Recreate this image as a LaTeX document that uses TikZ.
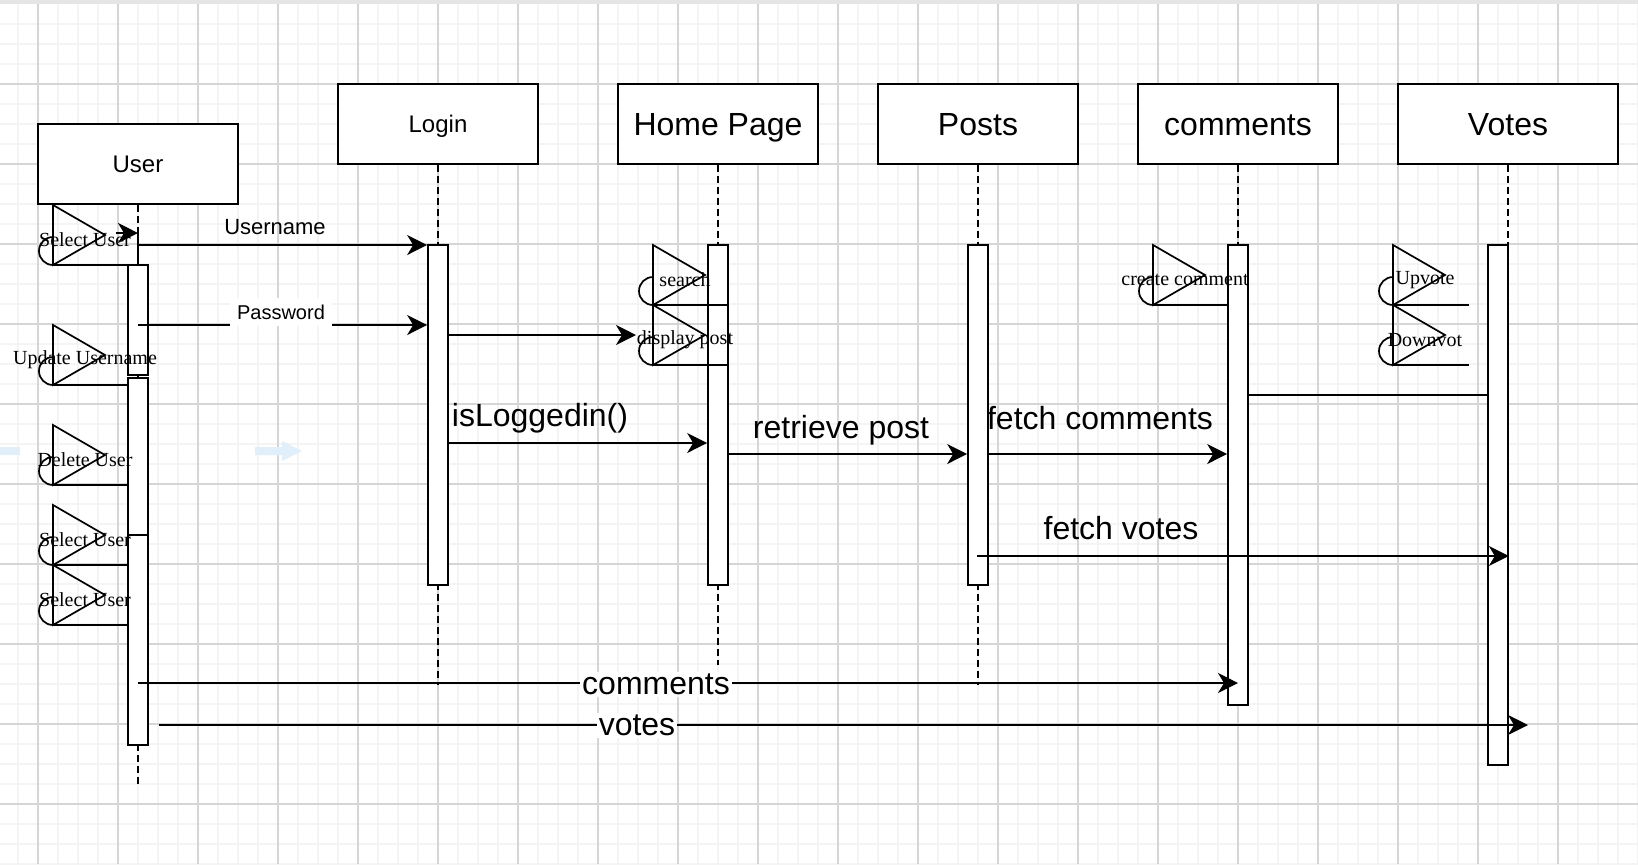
\documentclass[tikz,border=0pt]{standalone}
\usepackage{fontspec}
\setmainfont{Liberation Sans}
\newfontfamily\callfont{Liberation Serif}
\usetikzlibrary{arrows.meta}

\definecolor{gridminor}{HTML}{F4F4F4}
\definecolor{gridmajor}{HTML}{D6D6D6}
\definecolor{hintblue}{HTML}{E1EFFA}

% self call: lower corner (#1,#2), line to x=#3, node name #4, text #5
\newcommand{\selfcall}[5]{%
  \draw (#1,#2-60) -- (#1+52,#2-30) -- (#1,#2) -- cycle;
  \draw (#1,#2-28) arc[start angle=270,end angle=90,radius=14];
  \draw (#1,#2) -- (#3,#2);
  \node[calltext] (#4) at (#1+32,#2-25) {#5};
}

\begin{document}
\begin{tikzpicture}[x=0.5pt,y=-0.5pt,line width=0.85pt,
    lifebox/.style={draw,fill=white,minimum width=100pt,minimum height=40pt,inner sep=0pt,text depth=0pt},
    boxbig/.style={lifebox,font=\fontsize{16}{19}\selectfont,text height=11.5pt},
    boxsmall/.style={lifebox,font=\fontsize{12}{14}\selectfont,text height=8.6pt},
    actbar/.style={draw,fill=white,minimum width=10pt,inner sep=0pt,anchor=north},
    lifeline/.style={dash pattern=on 3.5pt off 2pt},
    msg/.style={-{Stealth[length=10pt,width=10pt,inset=3pt]}},
    calltext/.style={font=\callfont\fontsize{10}{12}\selectfont,inner sep=0pt},
    big/.style={font=\fontsize{16}{19}\selectfont,inner sep=1pt},
    onwhite/.style={fill=white}]
  \useasboundingbox (0,0) rectangle (1638,864);

  % grid
  \fill[white] (0,0) rectangle (1638,864);
  \fill[black!10] (0,0) rectangle (1638,4);
  \foreach \gx in {18,38,...,1638} \draw[gridminor,line width=0.9pt] (\gx,4) -- (\gx,864);
  \foreach \gy in {24,44,...,864} \draw[gridminor,line width=0.9pt] (0,\gy) -- (1638,\gy);
  \foreach \gx in {38,118,...,1558} \draw[gridmajor,line width=0.6pt] (\gx,4) -- (\gx,864);
  \foreach \gy in {84,164,...,804} \draw[gridmajor,line width=0.6pt] (0,\gy) -- (1638,\gy);

  % hover hints
  \fill[hintblue] (0,447) rectangle (20,455);
  \fill[hintblue] (255,447) -- (282,447) -- (282,441) -- (302,451) -- (282,461) -- (282,455) -- (255,455) -- cycle;

  % lifelines
  \draw (138,164) node[boxsmall] (user) {User};
  \draw (438,124) node[boxsmall] (login) {Login};
  \draw (718,124) node[boxbig] (home) {Home Page};
  \draw (978,124) node[boxbig] (posts) {Posts};
  \draw (1238,124) node[boxbig] (comments) {comments};
  \draw (1508,124) node[boxbig,minimum width=110pt] (votes) {Votes};

  \draw[lifeline] (user.south) -- ++(0,580);
  \draw[lifeline] (login.south) -- ++(0,520);
  \draw[lifeline] (home.south) -- ++(0,500);
  \draw[lifeline] (posts.south) -- ++(0,520);
  \draw[lifeline] (comments.south) -- ++(0,100);
  \draw[lifeline] (votes.south) -- ++(0,100);

  % comments -> votes, under the bar
  \coordinate (c8) at (1248,395);
  \coordinate (v8) at (1508,395);
  \draw[msg] (c8) -- (v8);

  % activations
  \node[actbar,minimum height=55pt] (userbarA) at (138,264) {};
  \node[actbar,minimum height=78.5pt] (userbarB) at (138,377) {};
  \node[actbar,minimum height=105pt] (userbarC) at (138,534) {};
  \node[actbar,minimum height=170pt] (loginbar) at (438,244) {};
  \node[actbar,minimum height=170pt] (homebar) at (718,244) {};
  \node[actbar,minimum height=170pt] (postbar) at (978,244) {};
  \node[actbar,minimum height=230pt] (commbar) at (1238,244) {};
  \node[actbar,minimum height=260pt] (votebar) at (1498,244) {};

  % self calls
  \selfcall{53}{265}{138}{sel1}{Select User}
  \draw (138,233) -- (138,265);
  \coordinate (s1) at (116,233);
  \draw[msg] (s1) -- (s1 -| user.south);
  \selfcall{53}{385}{128}{upd}{Update Username}
  \selfcall{53}{485}{128}{del}{Delete User}
  \selfcall{53}{565}{128}{sel2}{Select User}
  \selfcall{53}{625}{128}{sel3}{Select User}
  \selfcall{653}{305}{728}{search}{search}
  \selfcall{653}{365}{728}{disp}{display post}
  \selfcall{1153}{305}{1228}{crc}{create comment}
  \selfcall{1393}{305}{1469}{upv}{Upvote}
  \selfcall{1393}{365}{1469}{dnv}{Downvot}

  % messages
  \coordinate (m1) at (138,245);
  \draw[msg] (m1) -- (m1 -| loginbar.west);
  \node[font=\fontsize{11}{13}\selectfont] (lusername) at (275,227) {Username};

  \coordinate (m2) at (138,325);
  \draw[msg] (m2) -- (m2 -| loginbar.west);
  \node[onwhite,font=\fontsize{10}{12}\selectfont,minimum height=14pt,minimum width=44pt] (lpassword) at (281,312) {Password};

  \coordinate (m3) at (636,335);
  \draw[msg] (m3 -| loginbar.east) -- (m3);

  \coordinate (m4) at (448,443);
  \draw[msg] (m4) -- (m4 -| homebar.west);
  \node[big] (lloggedin) at (540,418) {isLoggedin()};

  \coordinate (m5) at (728,454);
  \draw[msg] (m5) -- (m5 -| postbar.west);
  \node[big] (lretrieve) at (841,430) {retrieve post};

  \coordinate (m6) at (988,454);
  \draw[msg] (m6) -- (m6 -| commbar.west);
  \node[big] (lfetchc) at (1100,418) {fetch comments};

  \coordinate (m7) at (977,556);
  \draw[msg] (m7) -- (m7 -| votebar.east);
  \node[big] (lfetchv) at (1121,528) {fetch votes};

  \coordinate (m9) at (138,683);
  \draw[msg] (m9) -- (m9 -| commbar.center);
  \node[big,onwhite] (lcomments) at (656,684) {comments};

  \coordinate (m10) at (159,725);
  \coordinate (m10e) at (1528,725);
  \draw[msg] (m10) -- (m10e);
  \node[big,onwhite] (lvotes) at (637,725) {votes};
\end{tikzpicture}
\end{document}
